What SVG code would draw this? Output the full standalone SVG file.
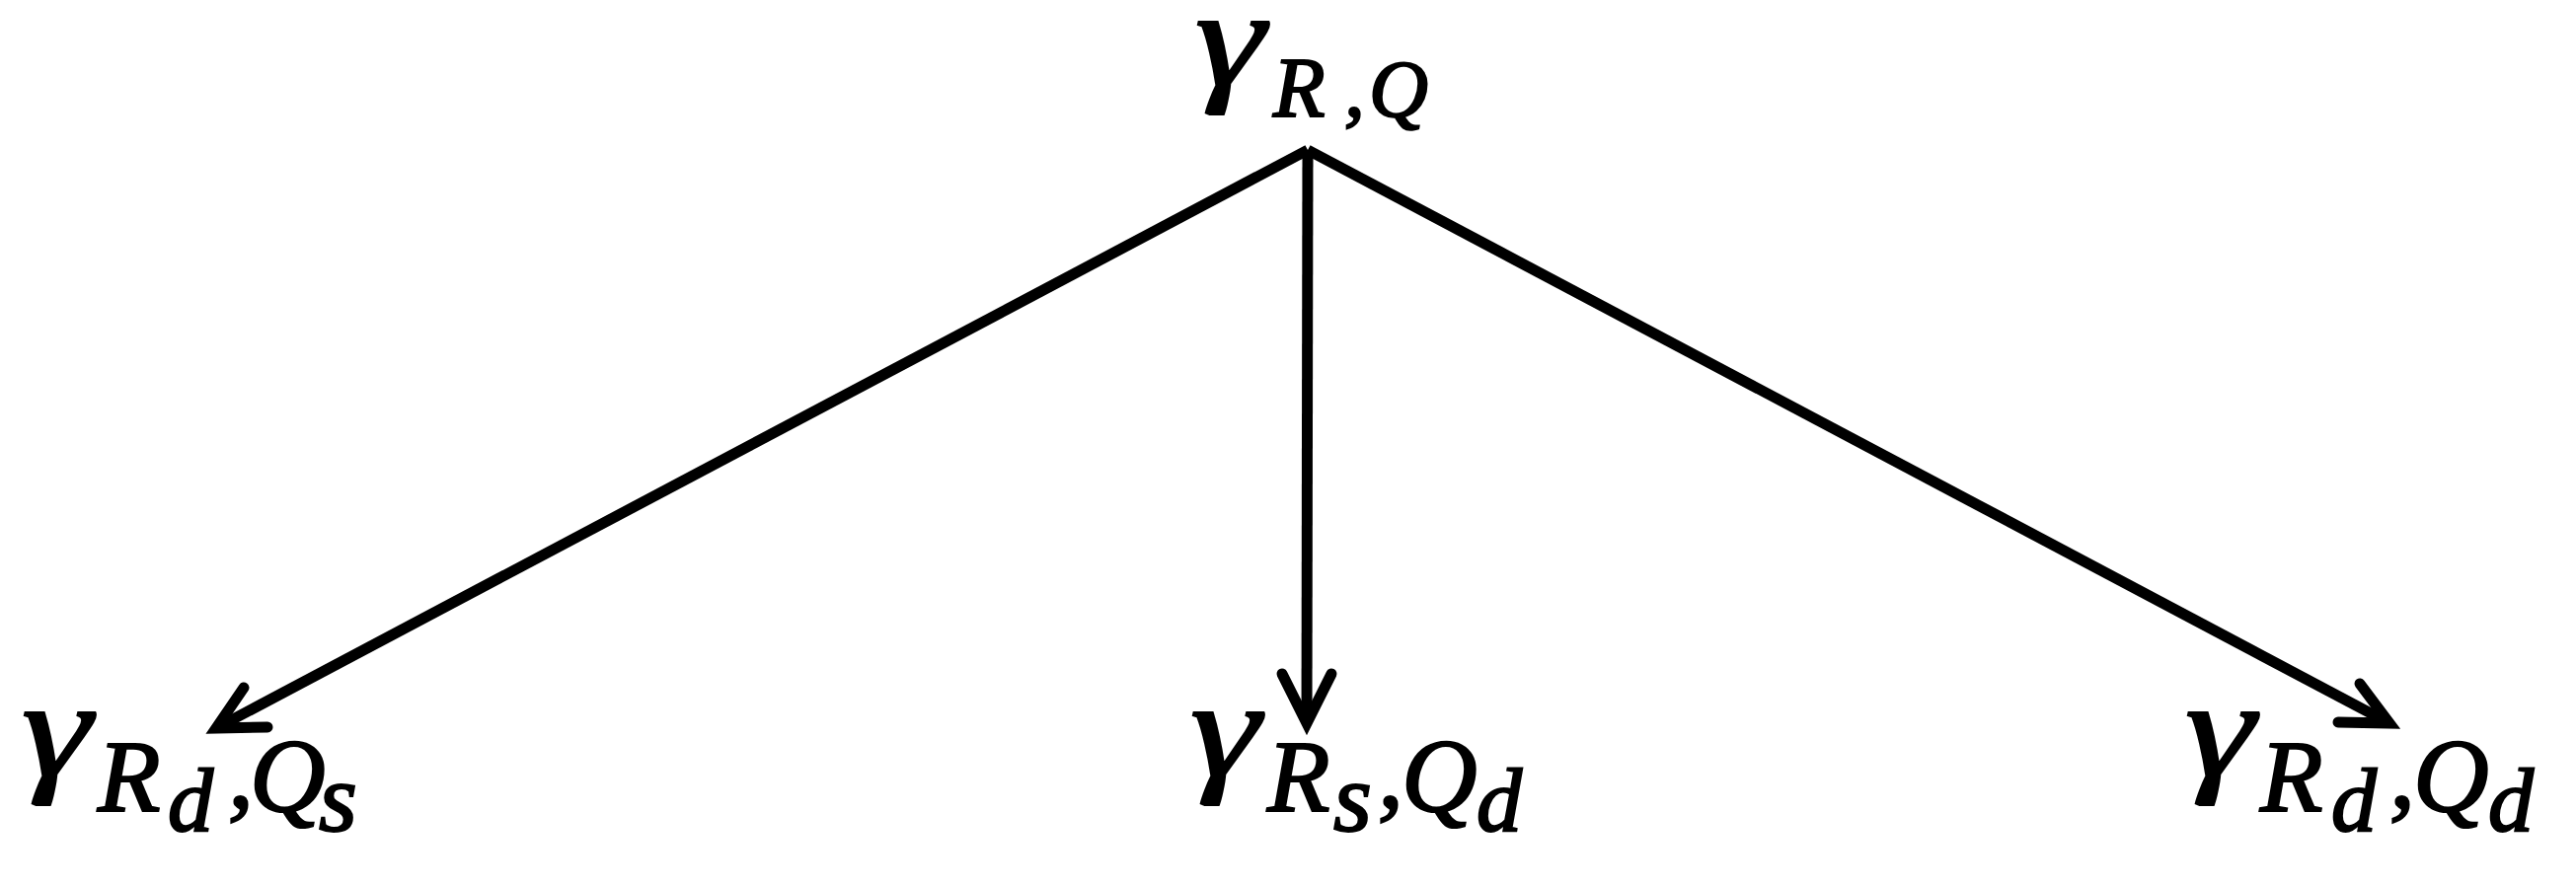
<svg xmlns="http://www.w3.org/2000/svg" width="2610" height="899" viewBox="0 0 2610 899">
<style>
.t{font-family:"Liberation Serif","DejaVu Serif",serif;font-style:italic;fill:#000;stroke:#000;stroke-width:2.2}
.g{font-size:140px}
.c{fill:none;stroke:#000;stroke-width:11;stroke-linecap:round;stroke-linejoin:miter}
.s{stroke-linecap:butt}
</style>
<rect width="2610" height="899" fill="#fff"/>
<g id="connectors">
<line class="c s" x1="1325" y1="152" x2="1324" y2="733"/>
<polyline class="c" points="1299,683 1324,733 1349,683"/>
<line class="c s" x1="1325" y1="152" x2="219" y2="738"/>
<polyline class="c" points="247,697 219,738 271,737"/>
<line class="c s" x1="1325" y1="152" x2="2421" y2="733"/>
<polyline class="c" points="2391,693 2421,733 2369,732"/>
</g>
<g id="node-top">
<text class="t g" transform="translate(1211,86) scale(1.28,1)">γ</text>
<text class="t"><tspan x="1290" y="118" font-size="86">R</tspan><tspan x="1362" y="118" font-size="83">,</tspan><tspan x="1387" y="118" font-size="83">Q</tspan></text>
</g>
<g id="node-left">
<text class="t g" transform="translate(22,786) scale(1.28,1)">γ</text>
<text class="t"><tspan x="99" y="822" font-size="104">R</tspan><tspan x="170" y="842" font-size="92">d</tspan><tspan x="231" y="818" font-size="104">,</tspan><tspan x="253" y="822" font-size="106">Q</tspan><tspan x="323" y="842" font-size="100">s</tspan></text>
</g>
<g id="node-mid">
<text class="t g" transform="translate(1206,786) scale(1.28,1)">γ</text>
<text class="t"><tspan x="1284" y="822" font-size="104">R</tspan><tspan x="1351" y="842" font-size="100">s</tspan><tspan x="1396" y="818" font-size="104">,</tspan><tspan x="1420" y="822" font-size="106">Q</tspan><tspan x="1496" y="842" font-size="92">d</tspan></text>
</g>
<g id="node-right">
<text class="t g" transform="translate(2214,786) scale(1.28,1)">γ</text>
<text class="t"><tspan x="2290" y="822" font-size="104">R</tspan><tspan x="2362" y="842" font-size="92">d</tspan><tspan x="2421" y="818" font-size="104">,</tspan><tspan x="2445" y="822" font-size="106">Q</tspan><tspan x="2521" y="842" font-size="92">d</tspan></text>
</g>
</svg>
